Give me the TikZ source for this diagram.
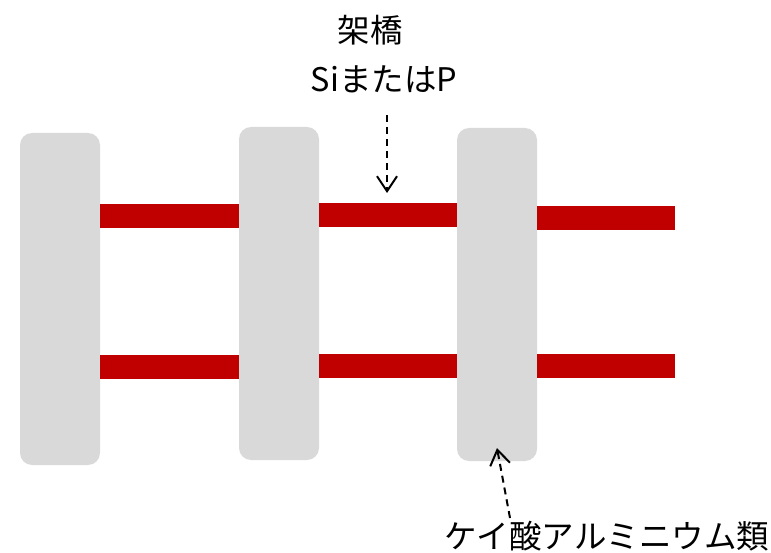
\documentclass[tikz,border=0pt]{standalone}
\usepackage{fontspec}
\setmainfont{Noto Sans CJK JP}
\usetikzlibrary{arrows.meta}
\definecolor{boxgray}{HTML}{D9D9D9}
\definecolor{barred}{HTML}{C00000}
\begin{document}
\begin{tikzpicture}[x=1pt,y=-1pt,
  layer/.style={fill=boxgray,rounded corners=12pt,minimum width=80pt,inner sep=0pt,draw=none},
  bar/.style={fill=barred,minimum height=24pt,inner sep=0pt,draw=none},
  lbl/.style={font=\fontsize{32.5}{36}\selectfont,inner sep=0pt,anchor=center},
  ptr/.style={dashed,dash pattern=on 7pt off 5pt,line width=2pt,-{Straight Barb[length=15pt,width=20pt,line width=2pt]}}]
\useasboundingbox (0,0) rectangle (771,553);
\node[layer,minimum height=332pt] (l1) at (60,299) {};
\node[layer,minimum height=333pt] (l2) at (279,293.5) {};
\node[layer,minimum height=333pt] (l3) at (497,294.5) {};
\node[bar,minimum width=139pt] (b1) at (169.5,216) {};
\node[bar,minimum width=138pt] (b2) at (388,215) {};
\node[bar,minimum width=138pt] (b3) at (606,218) {};
\node[bar,minimum width=139pt] (b4) at (169.5,367) {};
\node[bar,minimum width=138pt] (b5) at (388,366) {};
\node[bar,minimum width=138pt] (b6) at (606,365.5) {};
\node[lbl] (t1) at (370,30) {架橋};
\node[lbl] (t2) at (384,79) {SiまたはP};
\node[lbl] (t3) at (607,536) {ケイ酸アルミニウム類};
\coordinate (a1s) at (387,115);
\coordinate (a1e) at (387,193);
\coordinate (a2s) at (510,518);
\coordinate (a2e) at (497,448);
\draw[ptr] (a1s) -- (a1e);
\draw[ptr] (a2s) -- (a2e);
\end{tikzpicture}
\end{document}
